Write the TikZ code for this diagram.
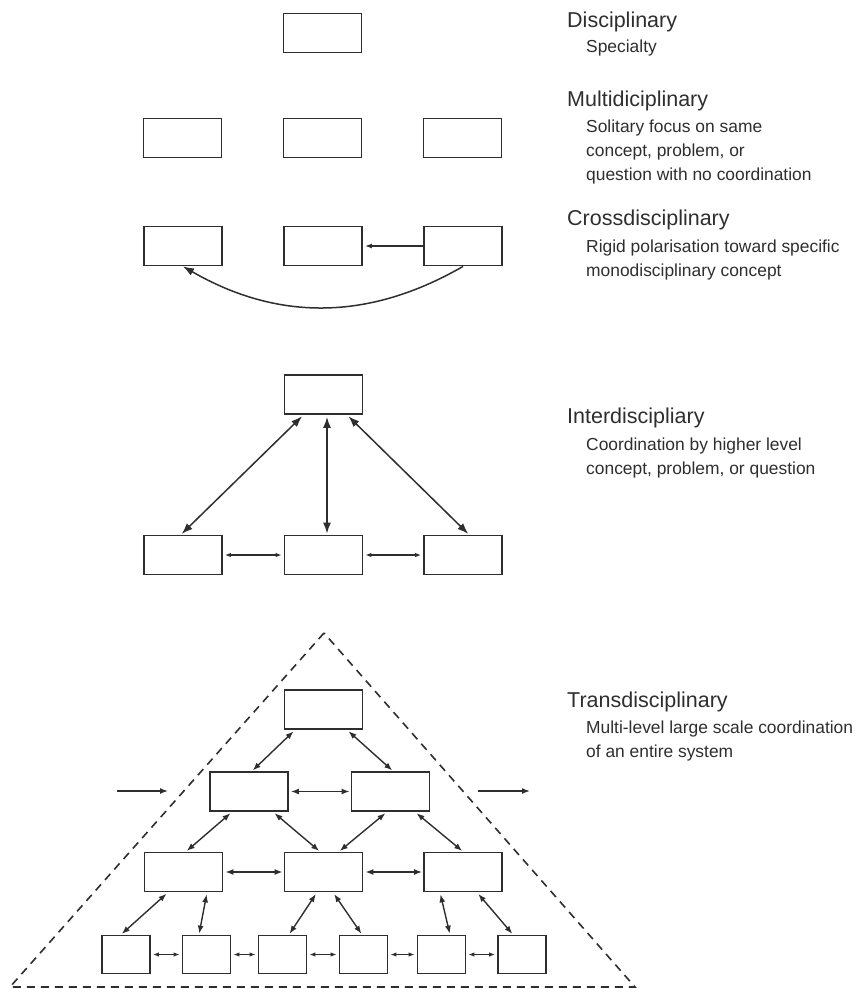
\documentclass[tikz,border=0pt]{standalone}
\usepackage{fontspec}
\setmainfont{Liberation Sans}
\usetikzlibrary{arrows.meta}
\definecolor{ink}{HTML}{2E2E2E}

\tikzset{
  box/.style={draw=ink,line width=1.8pt,minimum width=78pt,minimum height=39pt,inner sep=0pt},
  cell/.style={box,minimum width=48pt,minimum height=38pt},
  big/.style={draw=ink,line width=1.5pt,{Latex[length=11pt,width=8pt]}-{Latex[length=11pt,width=8pt]},shorten <=2pt,shorten >=1pt},
  link/.style={draw=ink,line width=1.4pt,{Latex[length=8pt,width=6pt]}-{Latex[length=8pt,width=6pt]},shorten <=2pt,shorten >=1pt},
  tiny/.style={draw=ink,line width=1.2pt,{Latex[length=6pt,width=4.5pt]}-{Latex[length=6pt,width=4.5pt]},shorten <=2pt,shorten >=2pt},
  one/.style={draw=ink,line width=1.4pt,-{Latex[length=8pt,width=6pt]}},
  head/.style={anchor=base west,inner sep=0pt,text=ink,font=\fontsize{21.5}{26}\selectfont},
  desc/.style={anchor=base west,inner sep=0pt,text=ink,align=left,font=\fontsize{17.4}{24}\selectfont}
}

\begin{document}
\begin{tikzpicture}[x=1pt,y=-1pt]
  \useasboundingbox (0,0) rectangle (859,989);

  % disciplinary
  \node[box] (D) at (322.5,33) {};

  % multidisciplinary
  \node[box] (M1) at (182.5,138) {};
  \node[box] (M2) at (322.5,138) {};
  \node[box] (M3) at (462.5,138) {};

  % crossdisciplinary
  \node[box] (C1) at (183,246) {};
  \node[box] (C2) at (323,246) {};
  \node[box] (C3) at (463,246) {};
  \draw[one,-{Latex[length=7pt,width=5pt]},shorten >=2pt] (C3.west) -- (C2.east);
  \draw[one,line width=1.5pt,-{Latex[length=11pt,width=8pt]}] (C3.south) to[bend left=30] (C1.south);

  % interdisciplinary
  \node[box] (I1) at (323.5,394.5) {};
  \node[box] (I2) at (183,555) {};
  \node[box] (I3) at (323.5,555) {};
  \node[box] (I4) at (463,555) {};
  \draw[big] ([xshift=-20pt]I1.south) -- ([xshift=-2pt]I2.north);
  \draw[big] ([xshift=3.5pt]I1.south) -- ([xshift=3.5pt]I3.north);
  \draw[big] ([xshift=23.5pt]I1.south) -- ([xshift=6pt]I4.north);
  \draw[tiny] (I2.east) -- (I3.west);
  \draw[tiny] (I3.east) -- (I4.west);

  % transdisciplinary
  \coordinate (apex) at (324,633);
  \coordinate (bl) at (10,987);
  \coordinate (br) at (635,987);
  \draw[ink,line width=1.6pt,dash pattern=on 8pt off 6pt] (apex) -- (bl) -- (br) -- cycle;

  \node[box] (T) at (323.5,709.5) {};
  \node[box] (A) at (249,791.5) {};
  \node[box] (B) at (390.5,791.5) {};
  \node[box] (P) at (183.5,872) {};
  \node[box] (Q) at (323.5,872) {};
  \node[box] (S) at (463,872) {};
  \foreach \n/\x in {1/126,2/206.5,3/282.5,4/363.5,5/441.5,6/522}
    \node[cell] (b\n) at (\x,954.5) {};

  \draw[link] ([xshift=-28.5pt]T.south) -- ([xshift=3pt]A.north);
  \draw[link] ([xshift=23.5pt]T.south) -- ([xshift=2.5pt]B.north);
  \draw[link] (A.east) -- (B.west);
  \draw[link] ([xshift=-17pt]A.south) -- ([xshift=2.5pt]P.north);
  \draw[link] ([xshift=24pt]A.south) -- ([xshift=-3.5pt]Q.north);
  \draw[link] ([xshift=-3.5pt]B.south) -- ([xshift=15.5pt]Q.north);
  \draw[link] ([xshift=24.5pt]B.south) -- (S.north);
  \draw[link] (P.east) -- (Q.west);
  \draw[link] (Q.east) -- (S.west);
  \draw[link] ([xshift=-15.5pt]P.south) -- ([xshift=-5pt]b1.north);
  \draw[link] ([xshift=23.5pt]P.south) -- ([xshift=-7.5pt]b2.north);
  \draw[link] ([xshift=-6.5pt]Q.south) -- ([xshift=6.5pt]b3.north);
  \draw[link] ([xshift=9.5pt]Q.south) -- ([xshift=-1.5pt]b4.north);
  \draw[link] ([xshift=-23pt]S.south) -- ([xshift=8.5pt]b5.north);
  \draw[link] ([xshift=14pt]S.south) -- ([xshift=-9pt]b6.north);
  \foreach \i/\j in {1/2,2/3,3/4,4/5,5/6}
    \draw[tiny] (b\i.east) -- (b\j.west);

  \coordinate (inA) at (117,791);
  \coordinate (inB) at (168,791);
  \coordinate (outA) at (478,791);
  \coordinate (outB) at (530,791);
  \draw[one] (inA) -- (inB);
  \draw[one] (outA) -- (outB);

  % labels (desc nodes sit on the baseline of their last line)
  \node[head] (h1) at (567,27) {Disciplinary};
  \node[desc] (d1) at (586,52) {Specialty};
  \node[head] (h2) at (567,106) {Multidiciplinary};
  \node[desc] (d2) at (586,180) {Solitary focus on same\\concept, problem, or\\question with no coordination};
  \node[head] (h3) at (567,225) {Crossdisciplinary};
  \node[desc] (d3) at (586,276) {Rigid polarisation toward specific\\monodisciplinary concept};
  \node[head] (h4) at (567,423) {Interdiscipliary};
  \node[desc] (d4) at (586,474) {Coordination by higher level\\concept, problem, or question};
  \node[head] (h5) at (567,707) {Transdisciplinary};
  \node[desc] (d5) at (586,757) {Multi-level large scale coordination\\of an entire system};
\end{tikzpicture}
\end{document}
